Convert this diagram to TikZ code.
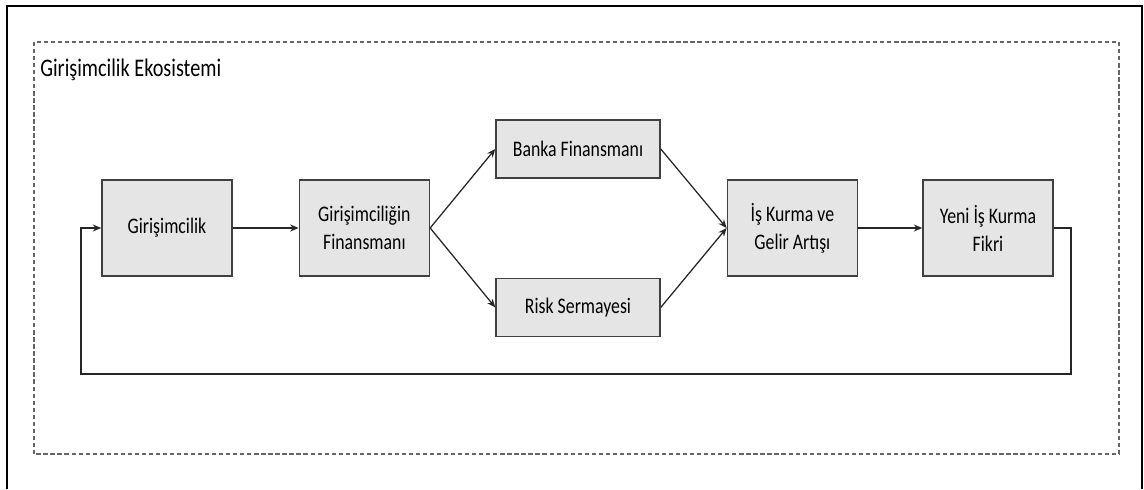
\documentclass[tikz,border=0pt]{standalone}
\usepackage{fontspec}
\setmainfont{Carlito}[FakeStretch=0.8]
\usetikzlibrary{arrows.meta}

\tikzset{
  stage/.style={draw=black!75, fill=black!10, line width=1.1pt, align=center,
    font=\fontsize{15.8}{20}\selectfont, minimum width=3.25cm, minimum height=2.4cm},
  fund/.style={stage, minimum width=4.1cm, minimum height=1.45cm},
  flow/.style={->, draw=black!85, line width=0.9pt}
}

\begin{document}
\begin{tikzpicture}[>={Stealth[length=6pt,width=5pt]}]
		\useasboundingbox (0,0) rectangle (28.6,12.225);

		% Frames
		\draw[line width=1.4pt] (0.175,0) -- (0.175,12.075) -- (28.55,12.075) -- (28.55,0);
		\draw[black!60, line width=1pt, dash pattern=on 3pt off 2pt] (0.85,0.875) rectangle (27.975,11.175);
		\node[anchor=west, inner sep=0pt, font=\fontsize{18}{21}\selectfont] (title) at (1.0,10.475) {Girişimcilik Ekosistemi};

		% Nodes
		\node[stage] (gir) at (4.175,6.525) {Girişimcilik};
		\node[stage] (fin) at (9.11,6.525) {Girişimciliğin\\Finansmanı};
		\node[fund] (banka) at (14.45,8.5) {Banka Finansmanı};
		\node[fund] (risk) at (14.45,4.54) {Risk Sermayesi};
		\node[stage] (is) at (19.81,6.525) {İş Kurma ve\\Gelir Artışı};
		\node[stage] (yeni) at (24.7,6.525) {Yeni İş Kurma\\Fikri};

		% Connections
		\draw[flow] (gir) -- (fin);
		\draw[flow] (fin.east) -- (banka.west);
		\draw[flow] (fin.east) -- (risk.west);
		\draw[flow] (banka.east) -- (is.west);
		\draw[flow] (risk.east) -- (is.west);
		\draw[flow] (is) -- (yeni);

		% Feedback loop
		\coordinate (backR) at (26.775,2.875);
		\coordinate (backL) at (2.025,2.875);
		\draw[flow] (yeni.east) -| (backR) -- (backL) |- (gir.west);
	\end{tikzpicture}
\end{document}
